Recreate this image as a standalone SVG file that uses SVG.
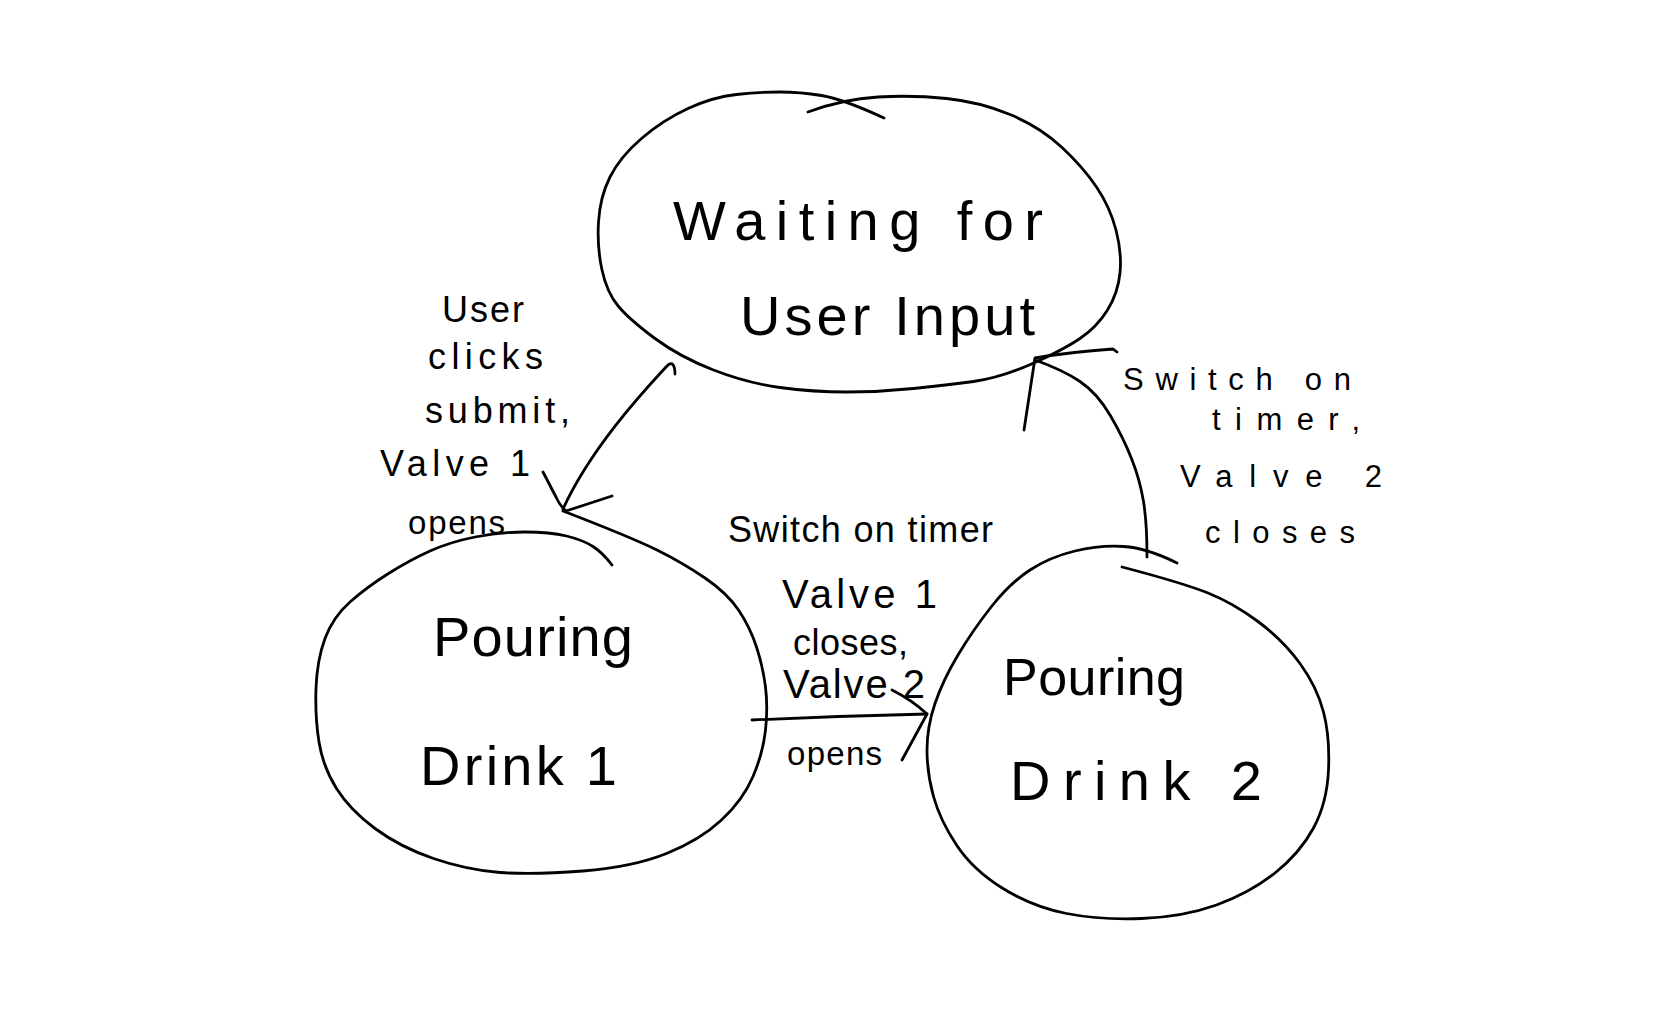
<svg xmlns="http://www.w3.org/2000/svg" width="1668" height="1021" viewBox="0 0 1668 1021">
<style>
.ink{fill:none;stroke:#000;stroke-width:2.8;stroke-linecap:round;stroke-linejoin:round}
.t{font-family:"Liberation Sans",Arial,sans-serif;fill:#000}
.big{font-size:56px}
.mid{font-size:40px}
.sm{font-size:36px}
.xs{font-size:31px}
</style>
<rect width="1668" height="1021" fill="#fff"/>
<g id="node-waiting">
<path class="ink" d="M808,112 Q843,99 878,97 Q913,95 946.5,98.5 Q980,102 1010,114.5 Q1040,127 1061.5,147 Q1083,167 1096.5,187 Q1110,207 1116,230 Q1122,253 1120,273 Q1118,293 1107.5,310 Q1097,327 1080,338.5 Q1063,350 1031.5,364 Q1000,378 973.5,381.5 Q947,385 913.5,388.5 Q880,392 846.5,392 Q813,392 780,387.5 Q747,383 713.5,370 Q680,357 655,338.5 Q630,320 618.5,306.5 Q607,293 602,270 Q597,247 598.5,222 Q600,197 610,177 Q620,157 641.5,138.5 Q663,120 688,108.5 Q713,97 736.5,94.5 Q760,92 780,92 Q800,92 821.5,95.5 Q843,99 884,118"/>
<text class="t big" x="673" y="240" textLength="370" lengthAdjust="spacing">Waiting for</text>
<text class="t big" x="740" y="335" textLength="295" lengthAdjust="spacing">User Input</text>
</g>
<g id="node-pour1">
<path class="ink" d="M612,565 Q603,553 593,546.5 Q583,540 566.5,536 Q550,532 525,532 Q500,532 475,537 Q450,542 430,551 Q410,560 388.5,573.5 Q367,587 350,602 Q333,617 325,638.5 Q317,660 316,688.5 Q315,717 319,742 Q323,767 336.5,788.5 Q350,810 375,828.5 Q400,847 433.5,858.5 Q467,870 500,872.5 Q533,875 583,871 Q633,867 666.5,853.5 Q700,840 721.5,820 Q743,800 753,776.5 Q763,753 765.5,730 Q768,707 765.5,687 Q763,667 756.5,647 Q750,627 738.5,610 Q727,593 705,578 Q683,563 658,550.5 Q633,538 563,511"/>
<text class="t big" x="433" y="656" textLength="200" lengthAdjust="spacing">Pouring</text>
<text class="t big" x="420" y="785" textLength="197" lengthAdjust="spacing">Drink 1</text>
</g>
<g id="node-pour2">
<path class="ink" d="M1177,563 Q1147,548 1123.5,546.5 Q1100,545 1075,551 Q1050,557 1030,570 Q1010,583 991.5,606.5 Q973,630 958,655 Q943,680 935,703.5 Q927,727 927,750 Q927,773 933.5,796.5 Q940,820 956.5,845 Q973,870 1003,888.5 Q1033,907 1066.5,913.5 Q1100,920 1141.5,918.5 Q1183,917 1216.5,905 Q1250,893 1275,873 Q1300,853 1313.5,828 Q1327,803 1328.5,770 Q1330,737 1323.5,712 Q1317,687 1300,663.5 Q1283,640 1258,621.5 Q1233,603 1208,593 Q1183,583 1122,567"/>
<text class="t" font-size="52" x="1003" y="695" textLength="182" lengthAdjust="spacing">Pouring</text>
<text class="t big" x="1010" y="800" textLength="252" lengthAdjust="spacing">Drink 2</text>
</g>
<g id="connectors">
<path class="ink" d="M675,374 C675,365 672,360 666,367 C640,395 590,450 563,509"/>
<path class="ink" d="M543,472 L556,497 Q560,506 566,511 L612,496"/>
<path class="ink" d="M752,720 Q840,716 927,714"/>
<path class="ink" d="M892,690 Q912,700 927,714 L902,760"/>
<path class="ink" d="M1147,557 Q1147,523 1143.5,501.5 Q1140,480 1131.5,458.5 Q1123,437 1110,415 Q1097,393 1080,381.5 Q1063,370 1035,360"/>
<path class="ink" d="M1117,352 L1113,349 Q1070,352 1035,358 L1024,430"/>
</g>
<g id="edge-labels">
<text class="t sm" x="442" y="322" textLength="82" lengthAdjust="spacing">User</text>
<text class="t sm" x="428" y="369" textLength="115" lengthAdjust="spacing">clicks</text>
<text class="t sm" x="425" y="423" textLength="145" lengthAdjust="spacing">submit,</text>
<text class="t sm" x="380" y="476" textLength="150" lengthAdjust="spacing">Valve 1</text>
<text class="t" font-size="33" x="408" y="534" textLength="97" lengthAdjust="spacing">opens</text>
<text class="t sm" x="728" y="542" textLength="265" lengthAdjust="spacing">Switch on timer</text>
<text class="t mid" x="782" y="608" textLength="155" lengthAdjust="spacing">Valve 1</text>
<text class="t sm" x="793" y="655" textLength="115" lengthAdjust="spacing">closes,</text>
<text class="t mid" x="783" y="698" textLength="142" lengthAdjust="spacing">Valve 2</text>
<text class="t" font-size="33" x="787" y="765" textLength="95" lengthAdjust="spacing">opens</text>
<text class="t xs" x="1123" y="390" textLength="228" lengthAdjust="spacing">Switch on</text>
<text class="t xs" x="1212" y="430" textLength="148" lengthAdjust="spacing">timer,</text>
<text class="t xs" x="1180" y="487" textLength="202" lengthAdjust="spacing">Valve 2</text>
<text class="t xs" x="1205" y="543" textLength="150" lengthAdjust="spacing">closes</text>
</g>
</svg>
